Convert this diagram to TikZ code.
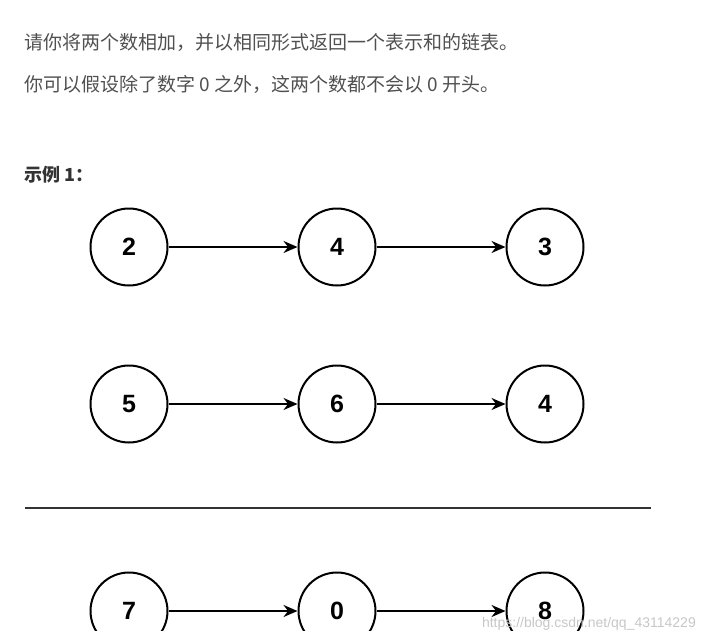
\documentclass[tikz,border=0pt]{standalone}
\usepackage{fontspec}
\setmainfont{Liberation Sans}
\newfontfamily\cjk{Noto Sans CJK SC}
\usetikzlibrary{arrows.meta, positioning}
\definecolor{textgray}{HTML}{505050}

\begin{document}
\begin{tikzpicture}[
        x=1pt, y=-1pt,
        node distance=129pt,
        num/.style={circle, draw, line width=2pt, minimum size=77pt, inner sep=0pt, font=\fontsize{25}{25}\selectfont\bfseries},
        link/.style={-{Stealth[length=14pt,width=12pt]}, line width=2pt},
        para/.style={anchor=west, inner sep=0pt, text=textgray, font=\cjk\fontsize{19}{19}\selectfont}
    ]
    \useasboundingbox (0,0) rectangle (703,642);

    % problem text
    \node (line1) [para] at (24,42) {请你将两个数相加，并以相同形式返回一个表示和的链表。};
    \node (line2) [para] at (24,84) {你可以假设除了数字 0 之外，这两个数都不会以 0 开头。};
    \node (title) [para, text=black!80, font=\cjk\fontsize{18}{18}\selectfont\bfseries] at (24,175) {示例 1：};

    % first number
    \node (a1) [num] at (129,247) {2};
    \node (a2) [num, right=of a1] {4};
    \node (a3) [num, right=of a2] {3};
    \draw[link] (a1) -- (a2);
    \draw[link] (a2) -- (a3);

    % second number
    \node (b1) [num] at (129,404) {5};
    \node (b2) [num, right=of b1] {6};
    \node (b3) [num, right=of b2] {4};
    \draw[link] (b1) -- (b2);
    \draw[link] (b2) -- (b3);

    \draw[line width=2pt, black!80] (25,508) coordinate (rulel) -- (651,508) coordinate (ruler);

    % result, cut off at the bottom
    \begin{scope}
        \clip (0,0) rectangle (703,630);
        \node (c1) [num] at (129,611) {7};
        \node (c2) [num, right=of c1] {0};
        \node (c3) [num, right=of c2] {8};
        \draw[link] (c1) -- (c2);
        \draw[link] (c2) -- (c3);
    \end{scope}

    \node (mark) [anchor=east, inner sep=0pt, text=black!22, font=\fontsize{14}{14}\selectfont] at (696,624) {https://blog.csdn.net/qq\_43114229};

\end{tikzpicture}
\end{document}
